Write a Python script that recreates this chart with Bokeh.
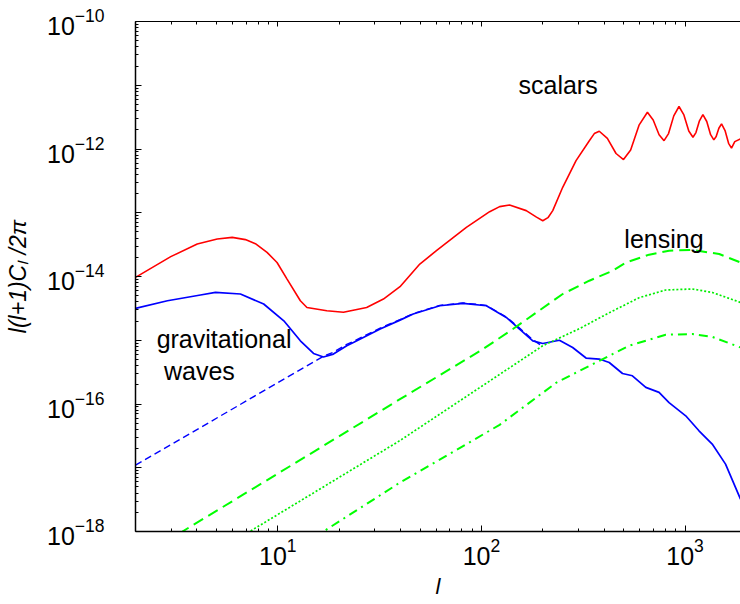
from bokeh.plotting import figure
from bokeh.models import FixedTicker, LogAxis, Range1d, Label
from bokeh.embed import file_html
from bokeh.resources import INLINE

# ---------------- data ----------------
l_scalar = [2.0, 2.98, 4.02, 5.04, 5.97, 6.93, 7.76, 8.85, 9.91, 11.1, 12.9, 13.9,
            17.4, 21.0, 27.3, 33.0, 39.8, 49.8, 60.1, 84.3, 109.7, 122.8, 137.4,
            165.9, 186.3, 200.0, 212.1, 223.9, 250.6, 291.4, 338.6, 358.2, 379.0,
            415.2, 458.0, 498.3, 540.3, 594.0, 653.1, 697.1, 745.2, 788.2, 829.3,
            879.8, 933.3, 986.5, 1042.6, 1093.0, 1130.6, 1176.3, 1223.0, 1277.6,
            1334.4, 1384.0, 1421.0, 1465.0, 1510.0, 1571.0, 1635.0, 1690.0, 1754.0,
            1871.0]
cl_scalar = [9.7e-15, 2.05e-14, 3.24e-14, 3.88e-14, 4.11e-14, 3.79e-14, 3.27e-14,
             2.39e-14, 1.66e-14, 9.1e-15, 4.17e-15, 3.27e-15, 2.9e-15, 2.75e-15,
             3.27e-15, 4.43e-15, 6.92e-15, 1.57e-14, 2.54e-14, 5.9e-14, 1.04e-13,
             1.247e-13, 1.32e-13, 1.08e-13, 8.53e-14, 7.5e-14, 8.37e-14, 1.08e-13,
             2.51e-13, 6.58e-13, 1.35e-12, 1.745e-12, 1.90e-12, 1.467e-12, 8.50e-13,
             6.82e-13, 9.68e-13, 2.364e-12, 3.77e-12, 2.852e-12, 1.670e-12, 1.35e-12,
             1.745e-12, 3.31e-12, 4.64e-12, 3.42e-12, 1.917e-12, 1.53e-12, 1.809e-12,
             2.772e-12, 3.47e-12, 2.70e-12, 1.677e-12, 1.39e-12, 1.566e-12,
             2.113e-12, 2.48e-12, 1.945e-12, 1.229e-12, 1.03e-12, 1.306e-12, 1.44e-12]

l_tensor = [2.0, 2.87, 4.17, 4.94, 6.55, 8.52, 10.7, 12.9, 14.97, 16.75, 18.75, 21.8,
            23.5, 31.8, 39.8, 46.2, 62.4, 81.2, 105.7, 132.4, 153.8, 178.7, 200.0,
            241.4, 280.4, 326.2, 379.0, 424.0, 492.7, 551.0, 641.3, 745.0, 834.0,
            1007.0, 1170.0, 1359.0, 1580.0, 1871.0]
cl_tensor = [3.16e-15, 4.17e-15, 5.13e-15, 5.62e-15, 5.31e-15, 3.70e-15, 2.02e-15,
             9.8e-16, 6.2e-16, 5.45e-16, 6.07e-16, 8.2e-16, 9.2e-16, 1.50e-15, 2.07e-15,
             2.58e-15, 3.48e-15, 3.79e-15, 3.48e-15, 2.28e-15, 1.50e-15, 9.8e-16,
             8.9e-16, 1.0e-15, 7.7e-16, 5.26e-16, 5.07e-16, 4.48e-16, 3.01e-16,
             2.77e-16, 1.82e-16, 1.52e-16, 1.05e-16, 6.53e-17, 3.80e-17, 2.35e-17,
             1.14e-17, 3.21e-18]

l_tensor_norei = [2.0, 16.75, 18.75, 21.8, 23.5, 31.8, 39.8, 46.2, 62.4, 81.2,
                  105.7, 132.4, 153.8, 178.7, 200.0]
cl_tensor_norei = [1.1e-17, 5.6e-16, 6.5e-16, 8.6e-16, 9.6e-16, 1.55e-15, 2.1e-15,
                   2.62e-15, 3.52e-15, 3.85e-15, 3.52e-15, 2.32e-15, 1.55e-15,
                   1.02e-15, 8.0e-16]

l_lens_1 = [2.0, 3.40, 10.0, 39.8, 100.0, 142.7, 250.6, 338.6, 440.0, 512.0, 666.0,
            834.0, 1085.0, 1470.0, 1871.0]
cl_lens_1 = [3.6e-19, 1.0e-18, 8.1e-18, 1.19e-16, 7.0e-16, 1.5e-15, 5.31e-15,
             8.59e-15, 1.23e-14, 1.66e-14, 2.20e-14, 2.54e-14, 2.61e-14, 2.25e-14,
             1.66e-14]

l_lens_2 = [5.0, 7.28, 39.8, 200.0, 302.7, 424.2, 594.7, 803.0, 1085.0, 1359.0, 1871.0]
cl_lens_2 = [4.8e-19, 1.0e-18, 2.67e-17, 8.2e-16, 1.52e-15, 2.70e-15, 4.65e-15,
             6.14e-15, 6.37e-15, 5.62e-15, 3.92e-15]

l_lens_3 = [10.0, 16.75, 39.8, 122.8, 232.6, 379.0, 531.0, 803.0, 1085.0, 1359.0, 1871.0]
cl_lens_3 = [3.7e-19, 1.0e-18, 5.86e-18, 4.71e-17, 2.15e-16, 4.76e-16, 8.2e-16,
             1.22e-15, 1.25e-15, 1.13e-15, 7.7e-16]

x_major = [10.0, 100.0, 1000.0]
x_minor = [k * 10.0 ** e for e in range(0, 4) for k in range(2, 10)]
y_major = [10.0 ** e for e in range(-18, -9)]
y_minor = [k * 10.0 ** e for e in range(-18, -10) for k in range(2, 10)]
y_hidden = [10.0 ** e for e in (-17, -15, -13, -11)]

FONT = "Liberation Sans"

p = figure(width=740, height=604, x_axis_type="log", y_axis_type="log",
           x_range=Range1d(2, 1871), y_range=Range1d(1e-18, 1e-10),
           output_backend="svg", toolbar_location=None,
           min_border_left=135, min_border_top=21, min_border_bottom=73,
           min_border_right=0)
p.outline_line_color = None
p.grid.visible = False
p.background_fill_color = "white"
p.border_fill_color = "white"

# curves
p.line(l_scalar, cl_scalar, line_color="#ff0000", line_width=1.6)
p.line(l_tensor, cl_tensor, line_color="#0000ff", line_width=1.7)
p.line(l_tensor_norei, cl_tensor_norei, line_color="#0000ff", line_width=1.4,
       line_dash="7 4")
p.line(l_lens_1, cl_lens_1, line_color="#00ff00", line_width=2, line_dash="11 6")
p.line(l_lens_2, cl_lens_2, line_color="#00ee00", line_width=1.7, line_dash="2 2")
p.line(l_lens_3, cl_lens_3, line_color="#00ff00", line_width=2, line_dash="9 5 2 5")

# axes
xt = FixedTicker(ticks=x_major, minor_ticks=x_minor)
yt = FixedTicker(ticks=y_major, minor_ticks=y_minor)

for ax in (p.xaxis[0], p.yaxis[0]):
    ax.axis_line_width = 1.5
    ax.axis_line_color = "black"
    ax.major_tick_in = 6
    ax.major_tick_out = 0
    ax.minor_tick_in = 3
    ax.minor_tick_out = 0
    ax.major_tick_line_color = "black"
    ax.minor_tick_line_color = "black"
    ax.major_label_text_font = FONT
    ax.major_label_text_font_size = "25px"
    ax.major_label_text_color = "black"
    ax.axis_label_text_font = FONT
    ax.axis_label_text_font_style = "italic"
    ax.axis_label_text_color = "black"

p.xaxis.ticker = xt
p.xaxis.major_label_standoff = 6
p.xaxis.axis_label = "l"
p.xaxis.axis_label_text_font_size = "22px"
p.xaxis.axis_label_standoff = 6

p.yaxis.ticker = yt
p.yaxis.major_label_overrides = {v: " " for v in y_hidden}
p.yaxis.major_label_standoff = 31
p.yaxis.axis_label = "l(l+1)C\u2097 /2\u03c0"
p.yaxis.axis_label_text_font_size = "23px"
p.yaxis.axis_label_standoff = 13

top = LogAxis(ticker=xt, axis_line_width=1.2, axis_line_color="black",
              major_tick_in=5, major_tick_out=0, minor_tick_in=3, minor_tick_out=0,
              major_label_text_font_size="2px", major_label_text_alpha=0,
              major_label_standoff=0)
p.add_layout(top, "above")

# annotations
lab_style = dict(text_font=FONT, text_font_size="25px", text_color="black",
                 text_baseline="alphabetic", text_align="left")
p.add_layout(Label(x=152, y=1.0e-11, text="scalars", **lab_style))
p.add_layout(Label(x=503, y=3.88e-14, text="lensing", **lab_style))
p.add_layout(Label(x=2.54, y=1.045e-15, text="gravitational", **lab_style))
p.add_layout(Label(x=2.76, y=3.32e-16, text="waves", **lab_style))

open("out.html", "w").write(file_html(p, INLINE))
